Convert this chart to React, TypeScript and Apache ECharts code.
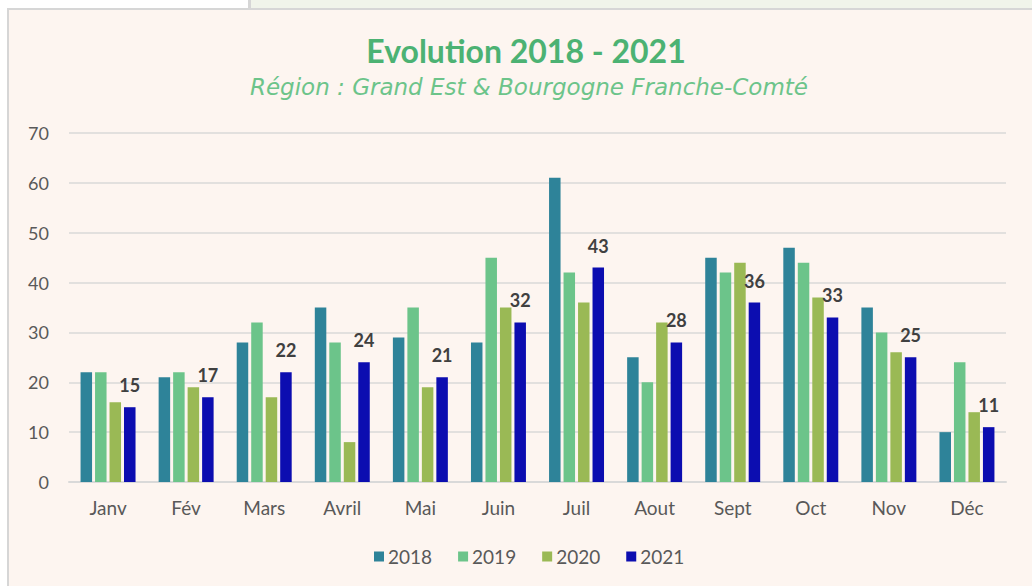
import React, { useEffect, useRef } from "react";
import * as echarts from "echarts";

const months = ["Janv", "Fév", "Mars", "Avril", "Mai", "Juin", "Juil", "Aout", "Sept", "Oct", "Nov", "Déc"];
const years = ["2018", "2019", "2020", "2021"];
const v2018 = [22, 21, 28, 35, 29, 28, 61, 25, 45, 47, 35, 10];
const v2019 = [22, 22, 32, 28, 35, 45, 42, 20, 42, 44, 30, 24];
const v2020 = [16, 19, 17, 8, 19, 35, 36, 32, 44, 37, 26, 14];
const v2021 = [15, 17, 22, 24, 21, 32, 43, 28, 36, 33, 25, 11];
const yTicks = [0, 10, 20, 30, 40, 50, 60, 70];

const colors = ["#2E8399", "#6CC48A", "#9AB955", "#0C0DB0"];
const FONT = "Lato, 'DejaVu Sans', sans-serif";

export default function App() {
  const ref = useRef<HTMLDivElement>(null);
  useEffect(() => {
    if (!ref.current) return;
    const chart = echarts.init(ref.current, null, { renderer: "svg" });
    const seriesData = [v2018, v2019, v2020, v2021];
    chart.setOption({
      animation: false,
      backgroundColor: "#FFFFFF",
      graphic: [
        { type: "rect", shape: { x: 251, y: 0, width: 781, height: 9 }, style: { fill: "#F0F4EA" }, z: -10 },
        { type: "rect", shape: { x: 248, y: 0, width: 3, height: 9 }, style: { fill: "#D6D6D6" }, z: -10 },
        { type: "rect", shape: { x: 7, y: 8, width: 1025, height: 2 }, style: { fill: "#D6D6D6" }, z: -10 },
        { type: "rect", shape: { x: 7, y: 8, width: 2, height: 578 }, style: { fill: "#D6D6D6" }, z: -10 },
        { type: "rect", shape: { x: 9, y: 10, width: 1023, height: 576 }, style: { fill: "#FDF5F0" }, z: -10 },
      ],
      title: [
        {
          text: "Evolution 2018 - 2021",
          left: 521,
          top: 29,
          textAlign: "center",
          textStyle: { fontFamily: FONT, fontSize: 32, fontWeight: "bold", color: "#4CB273" },
        },
        {
          text: "Région : Grand Est & Bourgogne Franche-Comté",
          left: 524,
          top: 70,
          textAlign: "center",
          textStyle: { fontFamily: "'DejaVu Sans', sans-serif", fontSize: 23, fontStyle: "italic", fontWeight: "normal", color: "#6CC48A" },
        },
      ],
      legend: {
        data: years,
        left: 369,
        top: 542,
        icon: "rect",
        itemWidth: 10,
        itemHeight: 10,
        itemGap: 26,
        textStyle: { fontFamily: FONT, fontSize: 19, color: "#595959", padding: [0, 0, 0, -1] },
      },
      grid: { left: 69, right: 26, top: 133, bottom: 104, containLabel: false },
      xAxis: {
        type: "category",
        data: months,
        axisLine: { show: true, lineStyle: { color: "#D9D9D9", width: 2 } },
        axisTick: { show: false },
        axisLabel: { fontFamily: FONT, fontSize: 19, color: "#595959", margin: 16 },
      },
      yAxis: {
        type: "value",
        min: yTicks[0],
        max: yTicks[yTicks.length - 1],
        interval: 10,
        axisLine: { show: false },
        axisTick: { show: false },
        axisLabel: { fontFamily: FONT, fontSize: 18, color: "#595959", margin: 20 },
        splitLine: { lineStyle: { color: "#D9D9D9", width: 1.5 } },
      },
      series: years.map((y, i) => ({
        name: y,
        type: "bar",
        data: seriesData[i],
        barWidth: 11.5,
        barGap: "26%",
        itemStyle: { color: colors[i] },
        label:
          i === 3
            ? {
                show: true,
                position: "top",
                distance: 13,
                fontFamily: FONT,
                fontSize: 18,
                fontWeight: "bold",
                color: "#404040",
              }
            : { show: false },
      })),
    });
    return () => chart.dispose();
  }, []);
  return (
    <div style={{ position: "fixed", left: 0, top: 0, width: 1032, height: 586 }}>
      <div ref={ref} style={{ width: 1032, height: 586 }} />
    </div>
  );
}
